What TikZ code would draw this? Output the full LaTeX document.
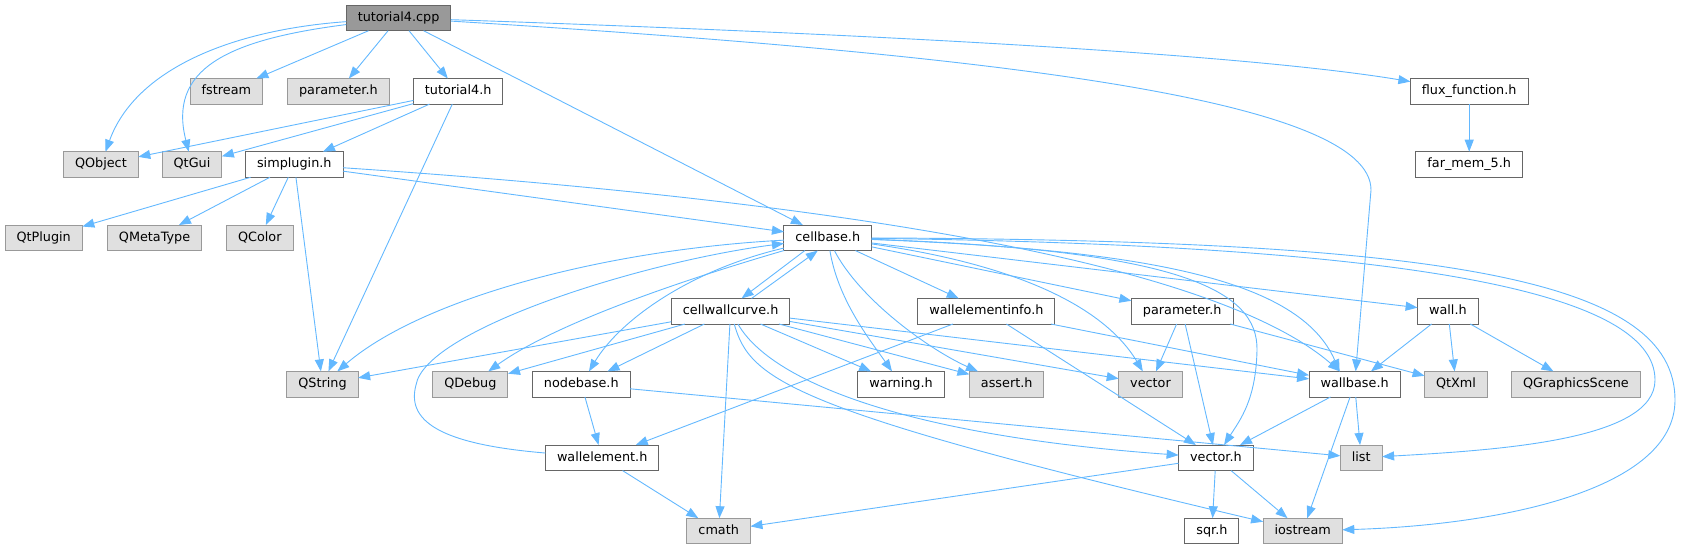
\documentclass[tikz,border=0pt]{standalone}
\usepackage{fontspec}
\setmainfont{DejaVu Sans}
\usetikzlibrary{arrows.meta}
\definecolor{edge-blue}{HTML}{63B8FF}
\definecolor{file-border}{HTML}{666666}
\definecolor{ext-border}{HTML}{999999}
\definecolor{ext-fill}{HTML}{E0E0E0}
\definecolor{root-fill}{HTML}{999999}

\begin{document}
\begin{tikzpicture}[x=1pt, y=-1pt,
      every node/.style={font=\fontsize{12.8}{15}\selectfont, inner xsep=11.5pt,
        inner ysep=0pt, minimum height=25.6pt, text height=9.3pt, text depth=2.4pt,
        outer sep=0pt, line width=1pt},
      filenode/.style={draw=file-border, fill=white},
      extnode/.style={draw=ext-border, fill=ext-fill},
      rootnode/.style={draw=file-border, fill=root-fill},
      dep/.style={draw=edge-blue, line width=0.9pt,
        -{Triangle[length=12pt, width=9pt]}}]
    \useasboundingbox (0,0) rectangle (1687,549);
    \node[rootnode] (cpp)       at (398.6,17.9)  {tutorial4.cpp};
    \node[extnode]  (fstream)   at (226.4,91.3)  {fstream};
    \node[extnode]  (paramext)  at (338.4,91.3)  {parameter.h};
    \node[filenode] (tut4h)     at (458.2,91.3)  {tutorial4.h};
    \node[filenode] (flux)      at (1469.2,91.3) {flux\_function.h};
    \node[extnode]  (qobject)   at (100.9,164.5) {QObject};
    \node[extnode]  (qtgui)     at (192,164.5)   {QtGui};
    \node[filenode] (simplugin) at (294.3,164.5) {simplugin.h};
    \node[filenode] (farmem)    at (1469.2,164.5) {far\_mem\_5.h};
    \node[extnode]  (qtplugin)  at (43.7,237.8)  {QtPlugin};
    \node[extnode]  (qmetatype) at (154.6,237.8) {QMetaType};
    \node[extnode]  (qcolor)    at (259.8,237.8) {QColor};
    \node[filenode] (cellbase)  at (827.8,237.8) {cellbase.h};
    \node[filenode] (cwc)       at (730.6,311.2) {cellwallcurve.h};
    \node[filenode] (weinfo)    at (986.4,311.2) {wallelementinfo.h};
    \node[filenode] (paramh)    at (1182.2,311.2) {parameter.h};
    \node[filenode] (wallh)     at (1447.9,311.2) {wall.h};
    \node[extnode]  (qstring)   at (322.5,384.2) {QString};
    \node[extnode]  (qdebug)    at (470.4,384.2) {QDebug};
    \node[filenode] (nodebase)  at (581.3,384.2) {nodebase.h};
    \node[filenode] (warning)   at (901,384.2)   {warning.h};
    \node[extnode]  (assert)    at (1006.7,384.2) {assert.h};
    \node[extnode]  (vector)    at (1150.5,384.2) {vector};
    \node[filenode] (wallbase)  at (1354.6,384.2) {wallbase.h};
    \node[extnode]  (qtxml)     at (1456,384.2)  {QtXml};
    \node[extnode]  (qgscene)   at (1575.9,384.2) {QGraphicsScene};
    \node[filenode] (wallelem)  at (602.2,457.8) {wallelement.h};
    \node[filenode] (vectorh)   at (1215.9,457.8) {vector.h};
    \node[extnode]  (list)      at (1361.2,457.8) {list};
    \node[extnode]  (cmath)     at (718.7,531)   {cmath};
    \node[filenode] (sqrh)      at (1211.9,531)  {sqr.h};
    \node[extnode]  (iostream)  at (1302.7,531)  {iostream};

    \draw[dep] (cpp) .. controls (230,30) and (135,70) .. (qobject);
    \draw[dep] (cpp) .. controls (225,40) and (168,70) .. (qtgui);
    \draw[dep] (cpp) -- (fstream);
    \draw[dep] (cpp) -- (paramext);
    \draw[dep] (cpp) -- (tut4h);
    \draw[dep] (cpp) -- (cellbase);
    \draw[dep] (cpp) .. controls (1000,55) and (1371,100) .. (1371,190) -- (wallbase);
    \draw[dep] (cpp) .. controls (900,35) and (1250,55) .. (flux);
    \draw[dep] (flux) -- (farmem);

    \draw[dep] (tut4h) -- (qobject);
    \draw[dep] (tut4h) -- (qtgui);
    \draw[dep] (tut4h) -- (simplugin);
    \draw[dep] (tut4h) -- (qstring);

    \draw[dep] (simplugin) -- (qtplugin);
    \draw[dep] (simplugin) -- (qmetatype);
    \draw[dep] (simplugin) -- (qcolor);
    \draw[dep] (simplugin) -- (qstring);
    \draw[dep] (simplugin) -- (cellbase);
    \draw[dep] (simplugin) .. controls (750,195) and (1200,250) .. (wallbase);

    \draw[dep] (cellbase) .. controls (600,250) and (420,300) .. (qstring);
    \draw[dep] (cellbase) .. controls (700,275) and (560,320) .. (qdebug);
    \draw[dep] (cellbase) .. controls (690,270) and (620,320) .. (nodebase);
    \draw[dep] ([xshift=-23pt]cellbase.south) -- ([xshift=11pt]cwc.north);
    \draw[dep] (cellbase) .. controls (838,300) and (870,340) .. (warning);
    \draw[dep] (cellbase) .. controls (860,300) and (930,350) .. (assert);
    \draw[dep] (cellbase) -- (weinfo);
    \draw[dep] (cellbase) -- (paramh);
    \draw[dep] (cellbase) .. controls (1000,262) and (1100,300) .. (vector);
    \draw[dep] (cellbase) -- (wallh);
    \draw[dep] (cellbase) .. controls (1150,250) and (1300,280) .. ([xshift=-15pt]wallbase.north);
    \draw[dep] (cellbase) .. controls (1180,250) and (1258,290) .. (1257,350)
                          .. controls (1256,400) and (1240,420) .. (vectorh);
    \draw[dep] (cellbase) .. controls (1400,245) and (1655,290) .. (1655,380)
                          .. controls (1655,440) and (1500,450) .. (list);
    \draw[dep] (cellbase) .. controls (1450,240) and (1675,280) .. (1675,400)
                          .. controls (1675,490) and (1500,525) .. (iostream);

    \draw[dep] ([xshift=21pt]cwc.north) -- ([xshift=-10pt]cellbase.south);
    \draw[dep] (cwc) -- (qstring);
    \draw[dep] (cwc) -- (qdebug);
    \draw[dep] (cwc) -- (nodebase);
    \draw[dep] (cwc) -- (warning);
    \draw[dep] (cwc) -- (assert);
    \draw[dep] (cwc) -- (vector);
    \draw[dep] (cwc) -- (wallbase);
    \draw[dep] (cwc) -- (cmath);
    \draw[dep] (cwc) .. controls (770,380) and (900,435) .. (vectorh);
    \draw[dep] (cwc) .. controls (750,380) and (790,410) .. (iostream);

    \draw[dep] (weinfo) -- (wallelem);
    \draw[dep] (weinfo) -- (vectorh);
    \draw[dep] (weinfo) -- (wallbase);

    \draw[dep] (paramh) -- (vector);
    \draw[dep] (paramh) -- (vectorh);
    \draw[dep] (paramh) -- (qtxml);

    \draw[dep] (wallh) -- (wallbase);
    \draw[dep] (wallh) -- (qtxml);
    \draw[dep] (wallh) -- (qgscene);

    \draw[dep] (nodebase) -- (wallelem);
    \draw[dep] (nodebase) -- (list);

    \draw[dep] (wallbase) -- (vectorh);
    \draw[dep] (wallbase) -- (list);
    \draw[dep] (wallbase) -- (iostream);

    \draw[dep] (wallelem) .. controls (450,445) and (405,425) .. (416,385)
                          .. controls (425,330) and (640,262) .. (cellbase);
    \draw[dep] (wallelem) -- (cmath);

    \draw[dep] (vectorh) -- (cmath);
    \draw[dep] (vectorh) -- (sqrh);
    \draw[dep] (vectorh) -- (iostream);
\end{tikzpicture}
\end{document}
